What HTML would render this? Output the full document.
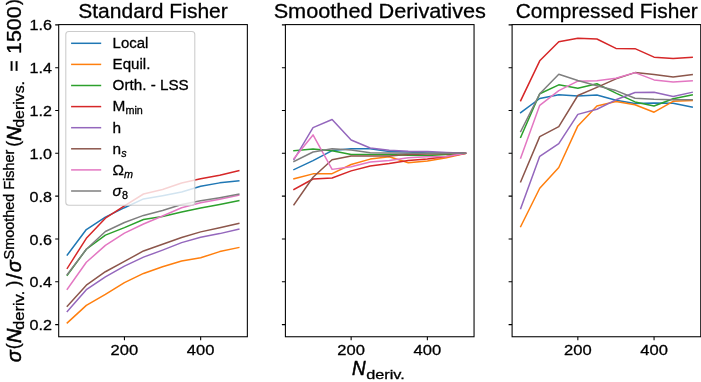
<!DOCTYPE html><html><head><meta charset="utf-8"><style>html,body{margin:0;padding:0;background:#fff;overflow:hidden}svg{display:block;will-change:transform}text{font-family:"Liberation Sans",sans-serif;fill:#000;stroke:#000;stroke-width:0.3px}</style></head><body>
<svg width="701" height="382" viewBox="0 0 701 382">
<rect width="701" height="382" fill="#fff"/>
<clipPath id="c0"><rect x="58.7" y="24.6" width="188.65" height="312.15"/></clipPath>
<g clip-path="url(#c0)" fill="none" stroke-width="1.5" stroke-linejoin="round" stroke-linecap="square">
<polyline points="67.28,255.02 86.33,229.54 105.39,217.12 124.44,207.70 143.50,198.92 162.55,195.71 181.61,192.07 200.66,186.29 219.72,182.87 238.78,180.94" stroke="#1f77b4"/>
<polyline points="67.28,322.89 86.33,305.33 105.39,294.41 124.44,282.64 143.50,273.43 162.55,266.79 181.61,261.01 200.66,257.80 219.72,251.59 238.78,247.52" stroke="#ff7f0e"/>
<polyline points="67.28,275.14 86.33,249.24 105.39,235.11 124.44,227.61 143.50,219.48 162.55,216.48 181.61,211.98 200.66,207.92 219.72,204.49 238.78,200.64" stroke="#2ca02c"/>
<polyline points="67.28,268.29 86.33,238.32 105.39,218.19 124.44,205.77 143.50,194.00 162.55,189.50 181.61,183.08 200.66,178.80 219.72,175.16 238.78,170.66" stroke="#d62728"/>
<polyline points="67.28,311.54 86.33,289.70 105.39,276.86 124.44,266.15 143.50,257.16 162.55,250.09 181.61,242.60 200.66,237.25 219.72,233.61 238.78,229.11" stroke="#9467bd"/>
<polyline points="67.28,306.19 86.33,285.21 105.39,271.72 124.44,261.44 143.50,250.95 162.55,244.31 181.61,237.46 200.66,231.89 219.72,227.83 238.78,223.33" stroke="#8c564b"/>
<polyline points="67.28,289.27 86.33,262.30 105.39,245.38 124.44,233.18 143.50,223.97 162.55,216.05 181.61,207.70 200.66,202.78 219.72,199.14 238.78,195.28" stroke="#e377c2"/>
<polyline points="67.28,274.50 86.33,249.24 105.39,231.47 124.44,222.47 143.50,215.41 162.55,210.48 181.61,204.49 200.66,200.64 219.72,197.64 238.78,194.21" stroke="#7f7f7f"/>
</g>
<path d="M55.20,324.60H58.70M55.20,281.78H58.70M55.20,238.96H58.70M55.20,196.14H58.70M55.20,153.32H58.70M55.20,110.50H58.70M55.20,67.68H58.70M55.20,24.86H58.70M124.44,336.75V340.25M200.66,336.75V340.25" stroke="#000" stroke-width="1.07" fill="none"/>
<text x="124.44" y="354.5" font-size="15.2" text-anchor="middle" textLength="27.6" lengthAdjust="spacingAndGlyphs">200</text>
<text x="200.66" y="354.5" font-size="15.2" text-anchor="middle" textLength="27.6" lengthAdjust="spacingAndGlyphs">400</text>
<clipPath id="c1"><rect x="285.4" y="24.6" width="188.65" height="312.15"/></clipPath>
<g clip-path="url(#c1)" fill="none" stroke-width="1.5" stroke-linejoin="round" stroke-linecap="square">
<polyline points="293.97,169.59 313.03,160.60 332.09,150.54 351.14,148.82 370.20,148.82 389.25,151.39 408.31,152.04 427.36,152.89 446.42,153.11 465.48,153.32" stroke="#1f77b4"/>
<polyline points="293.97,178.80 313.03,173.87 332.09,173.66 351.14,164.45 370.20,159.10 389.25,156.75 408.31,162.74 427.36,161.03 446.42,157.82 465.48,153.32" stroke="#ff7f0e"/>
<polyline points="293.97,150.75 313.03,149.04 332.09,150.75 351.14,154.39 370.20,154.60 389.25,154.60 408.31,155.25 427.36,155.46 446.42,154.60 465.48,153.32" stroke="#2ca02c"/>
<polyline points="293.97,189.50 313.03,179.01 332.09,177.94 351.14,170.88 370.20,165.95 389.25,163.60 408.31,160.60 427.36,158.89 446.42,156.53 465.48,153.32" stroke="#d62728"/>
<polyline points="293.97,159.53 313.03,127.63 332.09,119.49 351.14,140.05 370.20,147.97 389.25,150.32 408.31,151.18 427.36,151.39 446.42,152.46 465.48,153.32" stroke="#9467bd"/>
<polyline points="293.97,204.70 313.03,177.30 332.09,159.74 351.14,155.89 370.20,156.10 389.25,155.89 408.31,154.39 427.36,153.96 446.42,153.75 465.48,153.32" stroke="#8c564b"/>
<polyline points="293.97,158.46 313.03,134.91 332.09,169.38 351.14,166.81 370.20,162.10 389.25,160.39 408.31,157.82 427.36,156.75 446.42,156.53 465.48,153.32" stroke="#e377c2"/>
<polyline points="293.97,161.46 313.03,152.04 332.09,148.82 351.14,149.89 370.20,152.68 389.25,152.89 408.31,153.32 427.36,153.32 446.42,153.32 465.48,153.32" stroke="#7f7f7f"/>
</g>
<path d="M281.90,324.60H285.40M281.90,281.78H285.40M281.90,238.96H285.40M281.90,196.14H285.40M281.90,153.32H285.40M281.90,110.50H285.40M281.90,67.68H285.40M281.90,24.86H285.40M351.14,336.75V340.25M427.36,336.75V340.25" stroke="#000" stroke-width="1.07" fill="none"/>
<text x="351.14" y="354.5" font-size="15.2" text-anchor="middle" textLength="27.6" lengthAdjust="spacingAndGlyphs">200</text>
<text x="427.36" y="354.5" font-size="15.2" text-anchor="middle" textLength="27.6" lengthAdjust="spacingAndGlyphs">400</text>
<clipPath id="c2"><rect x="512.1" y="24.6" width="188.65" height="312.15"/></clipPath>
<g clip-path="url(#c2)" fill="none" stroke-width="1.5" stroke-linejoin="round" stroke-linecap="square">
<polyline points="520.68,112.64 539.73,98.51 558.79,94.66 577.84,95.94 596.90,95.08 615.95,100.22 635.01,103.43 654.06,103.01 673.12,103.22 692.18,107.07" stroke="#1f77b4"/>
<polyline points="520.68,226.54 539.73,188.22 558.79,167.45 577.84,125.92 596.90,106.00 615.95,101.51 635.01,104.72 654.06,112.21 673.12,101.29 692.18,100.44" stroke="#ff7f0e"/>
<polyline points="520.68,137.26 539.73,93.80 558.79,84.81 577.84,88.23 596.90,83.74 615.95,93.16 635.01,101.94 654.06,106.00 673.12,98.72 692.18,94.87" stroke="#2ca02c"/>
<polyline points="520.68,100.65 539.73,60.83 558.79,41.77 577.84,38.35 596.90,38.99 615.95,48.41 635.01,48.63 654.06,57.19 673.12,58.47 692.18,57.19" stroke="#d62728"/>
<polyline points="520.68,208.56 539.73,156.32 558.79,143.69 577.84,114.35 596.90,109.22 615.95,99.80 635.01,92.52 654.06,92.30 673.12,96.58 692.18,92.30" stroke="#9467bd"/>
<polyline points="520.68,181.80 539.73,136.62 558.79,126.56 577.84,95.51 596.90,87.38 615.95,78.81 635.01,72.60 654.06,74.53 673.12,76.89 692.18,74.53" stroke="#8c564b"/>
<polyline points="520.68,158.03 539.73,105.36 558.79,90.59 577.84,81.17 596.90,80.74 615.95,78.17 635.01,72.60 654.06,79.88 673.12,82.02 692.18,80.74" stroke="#e377c2"/>
<polyline points="520.68,131.48 539.73,93.80 558.79,74.32 577.84,80.53 596.90,85.66 615.95,90.59 635.01,98.30 654.06,99.37 673.12,99.80 692.18,99.80" stroke="#7f7f7f"/>
</g>
<path d="M508.60,324.60H512.10M508.60,281.78H512.10M508.60,238.96H512.10M508.60,196.14H512.10M508.60,153.32H512.10M508.60,110.50H512.10M508.60,67.68H512.10M508.60,24.86H512.10M577.84,336.75V340.25M654.06,336.75V340.25" stroke="#000" stroke-width="1.07" fill="none"/>
<text x="577.84" y="354.5" font-size="15.2" text-anchor="middle" textLength="27.6" lengthAdjust="spacingAndGlyphs">200</text>
<text x="654.06" y="354.5" font-size="15.2" text-anchor="middle" textLength="27.6" lengthAdjust="spacingAndGlyphs">400</text>
<rect x="65.8" y="31.5" width="129" height="173.8" rx="3" ry="3" fill="#fff" fill-opacity="0.8" stroke="#cccccc" stroke-width="1.07"/>
<path d="M71.1,43.30H101.2" stroke="#1f77b4" stroke-width="1.5"/>
<path d="M71.1,64.40H101.2" stroke="#ff7f0e" stroke-width="1.5"/>
<path d="M71.1,85.50H101.2" stroke="#2ca02c" stroke-width="1.5"/>
<path d="M71.1,106.60H101.2" stroke="#d62728" stroke-width="1.5"/>
<path d="M71.1,127.70H101.2" stroke="#9467bd" stroke-width="1.5"/>
<path d="M71.1,148.80H101.2" stroke="#8c564b" stroke-width="1.5"/>
<path d="M71.1,169.90H101.2" stroke="#e377c2" stroke-width="1.5"/>
<path d="M71.1,191.00H101.2" stroke="#7f7f7f" stroke-width="1.5"/>
<text x="112.6" y="48.10" font-size="15.4" textLength="35.8" lengthAdjust="spacingAndGlyphs">Local</text>
<text x="112.6" y="69.20" font-size="15.4" textLength="37.8" lengthAdjust="spacingAndGlyphs">Equil.</text>
<text x="112.6" y="90.30" font-size="15.4" textLength="76.1" lengthAdjust="spacingAndGlyphs">Orth. - LSS</text>
<text x="112.6" y="111.40" font-size="15.4">M<tspan font-size="10.8" dy="3">min</tspan></text>
<text x="112.6" y="132.50" font-size="15.4">h</text>
<text x="112.6" y="153.60" font-size="15.4">n<tspan font-size="10.8" dy="3" font-style="italic">s</tspan></text>
<text x="112.6" y="174.70" font-size="15.4">&#937;<tspan font-size="10.8" dy="3" font-style="italic">m</tspan></text>
<text x="112.6" y="195.80" font-size="15.4"><tspan font-style="italic">&#963;</tspan><tspan font-size="10.8" dy="3">8</tspan></text>
<rect x="58.7" y="24.6" width="188.65" height="312.15" fill="none" stroke="#000" stroke-width="1.07" stroke-linejoin="miter"/>
<rect x="285.4" y="24.6" width="188.65" height="312.15" fill="none" stroke="#000" stroke-width="1.07" stroke-linejoin="miter"/>
<rect x="512.1" y="24.6" width="188.65" height="312.15" fill="none" stroke="#000" stroke-width="1.07" stroke-linejoin="miter"/>
<text x="51.9" y="330.20" font-size="15.0" text-anchor="end" textLength="22.4" lengthAdjust="spacingAndGlyphs">0.2</text>
<text x="51.9" y="287.38" font-size="15.0" text-anchor="end" textLength="22.4" lengthAdjust="spacingAndGlyphs">0.4</text>
<text x="51.9" y="244.56" font-size="15.0" text-anchor="end" textLength="22.4" lengthAdjust="spacingAndGlyphs">0.6</text>
<text x="51.9" y="201.74" font-size="15.0" text-anchor="end" textLength="22.4" lengthAdjust="spacingAndGlyphs">0.8</text>
<text x="51.9" y="158.92" font-size="15.0" text-anchor="end" textLength="22.4" lengthAdjust="spacingAndGlyphs">1.0</text>
<text x="51.9" y="116.10" font-size="15.0" text-anchor="end" textLength="22.4" lengthAdjust="spacingAndGlyphs">1.2</text>
<text x="51.9" y="73.28" font-size="15.0" text-anchor="end" textLength="22.4" lengthAdjust="spacingAndGlyphs">1.4</text>
<text x="51.9" y="30.46" font-size="15.0" text-anchor="end" textLength="22.4" lengthAdjust="spacingAndGlyphs">1.6</text>
<text x="153.0" y="18.45" font-size="20.9" stroke="#000" stroke-width="0.45" text-anchor="middle" textLength="149.6" lengthAdjust="spacingAndGlyphs">Standard Fisher</text>
<text x="379.8" y="18.45" font-size="20.9" stroke="#000" stroke-width="0.45" text-anchor="middle" textLength="212.3" lengthAdjust="spacingAndGlyphs">Smoothed Derivatives</text>
<text x="606.8" y="18.45" font-size="20.9" stroke="#000" stroke-width="0.45" text-anchor="middle" textLength="182.0" lengthAdjust="spacingAndGlyphs">Compressed Fisher</text>
<text x="352.0" y="374.9" font-size="19.8" font-style="italic" style="stroke-width:0.55px" textLength="13.6" lengthAdjust="spacingAndGlyphs">N</text>
<text x="366.2" y="378.5" font-size="13.6" textLength="38.6" lengthAdjust="spacingAndGlyphs">deriv.</text>
<text transform="translate(21.0,356.25) rotate(-90)" x="0" y="0" font-size="19.8" text-anchor="middle" font-style="italic" style="stroke-width:0.55px">&#963;</text>
<text transform="translate(19.3,346.2) rotate(-90)" x="0" y="0" font-size="17.9" text-anchor="middle">(</text>
<text transform="translate(21.0,335.8) rotate(-90)" x="0" y="0" font-size="19.8" text-anchor="middle" font-style="italic" style="stroke-width:0.55px">N</text>
<text transform="translate(23.7,310.4) rotate(-90)" x="0" y="0" font-size="13.9" text-anchor="middle" textLength="39.3" lengthAdjust="spacingAndGlyphs">deriv.</text>
<text transform="translate(19.3,283.6) rotate(-90)" x="0" y="0" font-size="17.9" text-anchor="middle">)</text>
<text transform="translate(22.3,276.25) rotate(-90)" x="0" y="0" font-size="21.4" text-anchor="middle">/</text>
<text transform="translate(21.0,266.25) rotate(-90)" x="0" y="0" font-size="19.8" text-anchor="middle" font-style="italic" style="stroke-width:0.55px">&#963;</text>
<text transform="translate(13.7,204.6) rotate(-90)" x="0" y="0" font-size="13.9" text-anchor="middle" textLength="109.8" lengthAdjust="spacingAndGlyphs">Smoothed Fisher</text>
<text transform="translate(19.3,143.65) rotate(-90)" x="0" y="0" font-size="17.9" text-anchor="middle">(</text>
<text transform="translate(21.0,133.6) rotate(-90)" x="0" y="0" font-size="19.8" text-anchor="middle" font-style="italic" style="stroke-width:0.55px">N</text>
<text transform="translate(23.7,104.35) rotate(-90)" x="0" y="0" font-size="13.9" text-anchor="middle" textLength="46.7" lengthAdjust="spacingAndGlyphs">derivs.</text>
<text transform="translate(21.0,65.85) rotate(-90)" x="0" y="0" font-size="19.8" text-anchor="middle">=</text>
<text transform="translate(21.0,30.2) rotate(-90)" x="0" y="0" font-size="19.8" text-anchor="middle" textLength="47.6" lengthAdjust="spacingAndGlyphs">1500</text>
<text transform="translate(19.3,1.9) rotate(-90)" x="0" y="0" font-size="17.9" text-anchor="middle">)</text>
</svg></body></html>
